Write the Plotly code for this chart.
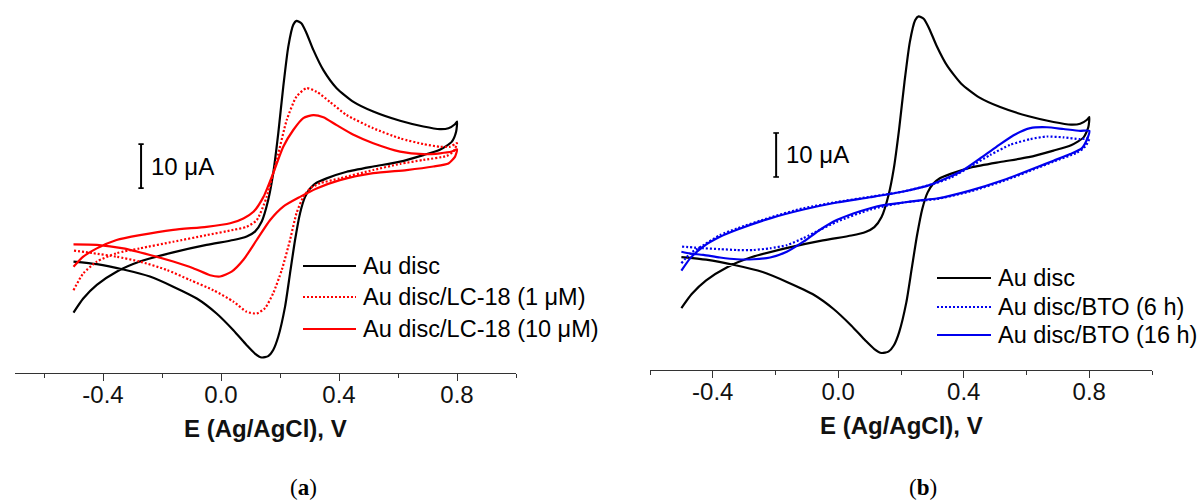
import plotly.graph_objects as go

# ---------------- axis ticks (potential, V vs Ag/AgCl) ----------------
major_ticks = [-0.4, 0.0, 0.4, 0.8]
major_labels = ["-0.4", "0.0", "0.4", "0.8"]
minor_ticks = [-0.6, -0.2, 0.2, 0.6, 1.0]

# ---------------- series labels ----------------
labels_a = ["Au disc", "Au disc/LC-18 (1 μM)", "Au disc/LC-18 (10 μM)"]
labels_b = ["Au disc", "Au disc/BTO (6 h)", "Au disc/BTO (16 h)"]
x_title = "E (Ag/AgCl), V"
scale_bar_uA = 10

# ---------------- Au disc (bare electrode): E in V, I in µA ----------------
au_fwd_E = [-0.50, -0.467, -0.421, -0.354, -0.275, -0.162, -0.049, 0.042, 0.087, 0.115,
            0.138, 0.160, 0.177, 0.194, 0.211, 0.228, 0.245, 0.256, 0.273, 0.290,
            0.313, 0.347, 0.392, 0.449, 0.516, 0.607, 0.686, 0.742, 0.771, 0.793, 0.800]
au_fwd_I = [-16.5, -13.3, -10.2, -7.2, -4.9, -2.8, -1.1, 0.0, 0.8, 1.9,
            4.2, 9.1, 15.2, 24.2, 34.8, 43.9, 48.9, 49.8, 49.2, 47.0,
            43.2, 38.6, 34.5, 31.4, 29.2, 27.1, 25.8, 25.2, 25.4, 26.3, 26.9]
au_rev_E = [0.797, 0.782, 0.742, 0.686, 0.607, 0.516, 0.426, 0.358, 0.324, 0.302,
            0.285, 0.268, 0.251, 0.234, 0.217, 0.194, 0.177, 0.160, 0.138, 0.115,
            0.087, 0.042, -0.015, -0.082, -0.162, -0.241, -0.331, -0.421, -0.50]
au_rev_I = [24.6, 22.3, 20.5, 19.3, 17.8, 16.7, 15.5, 14.0, 13.0, 11.7,
            9.8, 6.1, 0.0, -7.6, -15.2, -22.0, -25.0, -26.4, -26.7, -25.8,
            -23.9, -20.5, -16.7, -13.3, -10.6, -8.3, -6.7, -5.5, -4.9]

# ---------------- Au disc/LC-18 (1 µM) ----------------
lc1_fwd_E = [-0.50, -0.467, -0.421, -0.354, -0.275, -0.162, -0.049, 0.042, 0.087, 0.121,
             0.155, 0.189, 0.223, 0.256, 0.290, 0.324, 0.369, 0.426, 0.516, 0.607,
             0.686, 0.742, 0.776, 0.793, 0.800]
lc1_fwd_I = [-11.4, -7.6, -4.9, -3.0, -1.9, -0.4, 1.1, 2.3, 3.0, 4.5,
             9.8, 18.2, 27.3, 32.6, 34.5, 33.7, 31.4, 28.4, 25.4, 23.1,
             21.8, 21.2, 21.2, 21.8, 22.0]
lc1_rev_E = [0.788, 0.765, 0.686, 0.607, 0.516, 0.403, 0.336, 0.302, 0.279, 0.256,
             0.234, 0.206, 0.177, 0.149, 0.121, 0.087, 0.042, -0.026, -0.105, -0.184,
             -0.275, -0.354, -0.433, -0.50]
lc1_rev_I = [20.1, 19.1, 18.2, 17.3, 15.9, 14.0, 12.9, 11.7, 9.8, 6.1,
             0.0, -6.8, -12.1, -15.5, -16.7, -16.3, -14.0, -11.4, -9.1, -6.8,
             -4.9, -3.8, -3.0, -2.4]

# ---------------- Au disc/LC-18 (10 µM) ----------------
lc10_fwd_E = [-0.50, -0.467, -0.421, -0.354, -0.275, -0.162, -0.049, 0.031, 0.076, 0.110,
              0.144, 0.177, 0.211, 0.245, 0.279, 0.313, 0.347, 0.392, 0.449, 0.516,
              0.607, 0.686, 0.742, 0.782, 0.800]
lc10_fwd_I = [-6.1, -3.8, -1.9, 0.0, 1.1, 2.3, 3.0, 3.8, 4.9, 6.4,
              9.8, 15.2, 21.2, 25.0, 27.7, 28.4, 27.9, 26.1, 23.9, 22.0,
              20.1, 19.5, 19.7, 20.1, 20.6]
lc10_rev_E = [0.793, 0.771, 0.720, 0.629, 0.516, 0.403, 0.324, 0.268, 0.211, 0.166,
              0.121, 0.076, 0.036, -0.003, -0.037, -0.094, -0.162, -0.241, -0.331, -0.421,
              -0.50]
lc10_rev_I = [18.9, 17.4, 16.7, 15.9, 15.2, 13.6, 11.7, 9.8, 7.6, 4.5,
              0.0, -4.5, -7.2, -8.3, -8.0, -6.4, -4.9, -3.4, -1.9, -1.1,
              -1.0]

# ---------------- Au disc/BTO (6 h) ----------------
bto6_fwd_E = [-0.50, -0.472, -0.430, -0.377, -0.323, -0.217, -0.111, -0.005, 0.102, 0.208,
              0.293, 0.357, 0.420, 0.484, 0.548, 0.612, 0.665, 0.718, 0.771, 0.800]
bto6_fwd_I = [-6.3, -4.1, -2.2, 0.1, 1.6, 4.1, 6.2, 7.6, 8.8, 10.0,
              11.5, 13.1, 15.6, 18.3, 20.6, 21.9, 22.5, 22.3, 21.9, 22.1]
bto6_rev_E = [0.787, 0.760, 0.686, 0.633, 0.527, 0.420, 0.314, 0.208, 0.102, -0.005,
              -0.058, -0.111, -0.164, -0.217, -0.270, -0.323, -0.377, -0.430, -0.50]
bto6_rev_I = [20.2, 18.8, 16.8, 15.3, 12.4, 10.0, 8.3, 7.5, 5.9, 3.1,
              1.3, -0.6, -2.2, -2.9, -3.3, -3.3, -3.1, -2.9, -2.5]

# ---------------- Au disc/BTO (16 h) ----------------
bto16_fwd_E = [-0.50, -0.472, -0.430, -0.377, -0.323, -0.217, -0.111, -0.005, 0.102, 0.208,
               0.293, 0.357, 0.399, 0.452, 0.505, 0.559, 0.612, 0.665, 0.718, 0.771, 0.800]
bto16_fwd_I = [-8.0, -5.2, -2.5, -0.3, 1.3, 3.9, 5.9, 7.5, 8.7, 10.0,
               11.5, 13.4, 14.9, 17.5, 20.2, 22.8, 24.4, 24.6, 24.2, 23.8, 23.8]
bto16_rev_E = [0.792, 0.776, 0.739, 0.686, 0.633, 0.527, 0.420, 0.314, 0.261, 0.208,
               0.144, 0.102, 0.048, -0.005, -0.058, -0.111, -0.164, -0.217, -0.270, -0.323,
               -0.377, -0.430, -0.472, -0.50]
bto16_rev_I = [21.7, 19.8, 18.5, 17.0, 15.5, 12.6, 10.2, 8.4, 8.0, 7.5,
               6.9, 6.2, 5.0, 3.5, 1.3, -1.4, -3.7, -5.0, -5.4, -5.4,
               -5.0, -4.4, -4.1, -3.7]

# ---------------- figure geometry ----------------
W, H = 1199, 501
FONT = "Liberation Sans, Arial, sans-serif"
AXIS_COLOR = "#333333"
BLACK, RED, BLUE = "#000000", "#ff0000", "#0000ee"
DOT = "2px,2px"
LW = 2.2
PX_PER_UA = 4.4  # vertical scale, pixels per µA


def px(x):
    return x / W


def py(y):
    return 1 - y / H


fig = go.Figure()


def add_cv(E_f, I_f, E_r, I_r, name, color, dash, xa, ya):
    fig.add_trace(go.Scatter(
        x=E_f + E_r, y=I_f + I_r, mode="lines", name=name,
        line=dict(color=color, width=LW, dash=dash, shape="spline", smoothing=0.6),
        xaxis=xa, yaxis=ya, showlegend=False, hoverinfo="skip"))


# panel (a)
add_cv(au_fwd_E, au_fwd_I, au_rev_E, au_rev_I, labels_a[0], BLACK, "solid", "x", "y")
add_cv(lc1_fwd_E, lc1_fwd_I, lc1_rev_E, lc1_rev_I, labels_a[1], RED, DOT, "x", "y")
add_cv(lc10_fwd_E, lc10_fwd_I, lc10_rev_E, lc10_rev_I, labels_a[2], RED, "solid", "x", "y")
# panel (b)
add_cv(au_fwd_E, au_fwd_I, au_rev_E, au_rev_I, labels_b[0], BLACK, "solid", "x2", "y2")
add_cv(bto6_fwd_E, bto6_fwd_I, bto6_rev_E, bto6_rev_I, labels_b[1], BLUE, DOT, "x2", "y2")
add_cv(bto16_fwd_E, bto16_fwd_I, bto16_rev_E, bto16_rev_I, labels_b[2], BLUE, "solid", "x2", "y2")

# axis geometry: plot left/right edges and x-axis line position in pixels
ax_a = dict(left=14.5, right=516.0, bottom=373.0, zero=240.0, rng=[-0.7, 1.0])
ax_b = dict(left=650.0, right=1152.0, bottom=370.0, zero=235.5, rng=[-0.6, 1.0])


def xaxis_cfg(ax, anchor):
    return dict(
        domain=[px(ax["left"]), px(ax["right"])], range=ax["rng"], anchor=anchor,
        showline=True, linecolor=AXIS_COLOR, linewidth=1.3, showgrid=False, zeroline=False,
        ticks="outside", ticklen=7, tickwidth=1.3, tickcolor=AXIS_COLOR,
        tickmode="array", tickvals=major_ticks, ticktext=major_labels,
        tickfont=dict(family=FONT, size=24, color="#111111"), ticklabelstandoff=-7,
        minor=dict(tickmode="array", tickvals=minor_ticks, ticks="outside", ticklen=4,
                   tickwidth=1.3, tickcolor=AXIS_COLOR, showgrid=False),
        fixedrange=True)


def yaxis_cfg(ax, anchor):
    return dict(
        domain=[py(ax["bottom"]), 1.0], anchor=anchor, visible=False,
        range=[(ax["zero"] - ax["bottom"]) / PX_PER_UA, ax["zero"] / PX_PER_UA],
        fixedrange=True)


shapes = []
annotations = []


# 10 µA scale bars, drawn in data units
def scale_bar(xref, yref, E, I0):
    shapes.append(dict(type="line", xref=xref, yref=yref, x0=E, x1=E, y0=I0,
                       y1=I0 + scale_bar_uA, line=dict(color=BLACK, width=2)))
    for yy in (I0, I0 + scale_bar_uA):
        shapes.append(dict(type="line", xref=xref, yref=yref, x0=E - 0.009, x1=E + 0.009,
                           y0=yy, y1=yy, line=dict(color=BLACK, width=1.6)))
    annotations.append(dict(xref=xref, yref=yref, x=E, y=I0 + scale_bar_uA / 2,
                            text=f"{scale_bar_uA} μA", showarrow=False, xanchor="left",
                            yanchor="middle", xshift=8,
                            font=dict(family=FONT, size=24, color=BLACK)))


scale_bar("x", "y", -0.271, 11.8)
scale_bar("x2", "y2", -0.198, 13.3)


# legends drawn as line swatches with text labels
def legend(labels, colors, dashes, x0, x1, xt, rows):
    for lab, col, d, yy in zip(labels, colors, dashes, rows):
        shapes.append(dict(type="line", xref="paper", yref="paper", x0=px(x0), x1=px(x1),
                           y0=py(yy), y1=py(yy), line=dict(color=col, width=LW, dash=d)))
        annotations.append(dict(xref="paper", yref="paper", x=px(xt), y=py(yy), text=lab,
                                showarrow=False, xanchor="left", yanchor="middle",
                                font=dict(family=FONT, size=23.5, color=BLACK)))


legend(labels_a, [BLACK, RED, RED], ["solid", DOT, "solid"], 303, 356, 361, [266, 297, 329])
legend(labels_b, [BLACK, BLUE, BLUE], ["solid", DOT, "solid"], 937, 991, 996, [278, 307, 335])

# axis titles
for cx, cy in ((265.3, 428.0), (901.0, 425.0)):
    annotations.append(dict(xref="paper", yref="paper", x=px(cx), y=py(cy),
                            text=f"<b>{x_title}</b>", showarrow=False,
                            xanchor="center", yanchor="middle",
                            font=dict(family=FONT, size=24, color="#111111")))

# panel letters
for lab, cx in (("a", 303.5), ("b", 922.8)):
    annotations.append(dict(xref="paper", yref="paper", x=px(cx), y=py(487.0),
                            text=f"(<b>{lab}</b>)", showarrow=False,
                            xanchor="center", yanchor="middle",
                            font=dict(family="Liberation Serif, Times New Roman, serif",
                                      size=23, color=BLACK)))

fig.update_layout(
    width=W, height=H, margin=dict(l=0, r=0, t=0, b=0),
    paper_bgcolor="white", plot_bgcolor="white",
    xaxis=xaxis_cfg(ax_a, "y"), yaxis=yaxis_cfg(ax_a, "x"),
    xaxis2=xaxis_cfg(ax_b, "y2"), yaxis2=yaxis_cfg(ax_b, "x2"),
    shapes=shapes, annotations=annotations, showlegend=False)

fig.write_html("out.html")
